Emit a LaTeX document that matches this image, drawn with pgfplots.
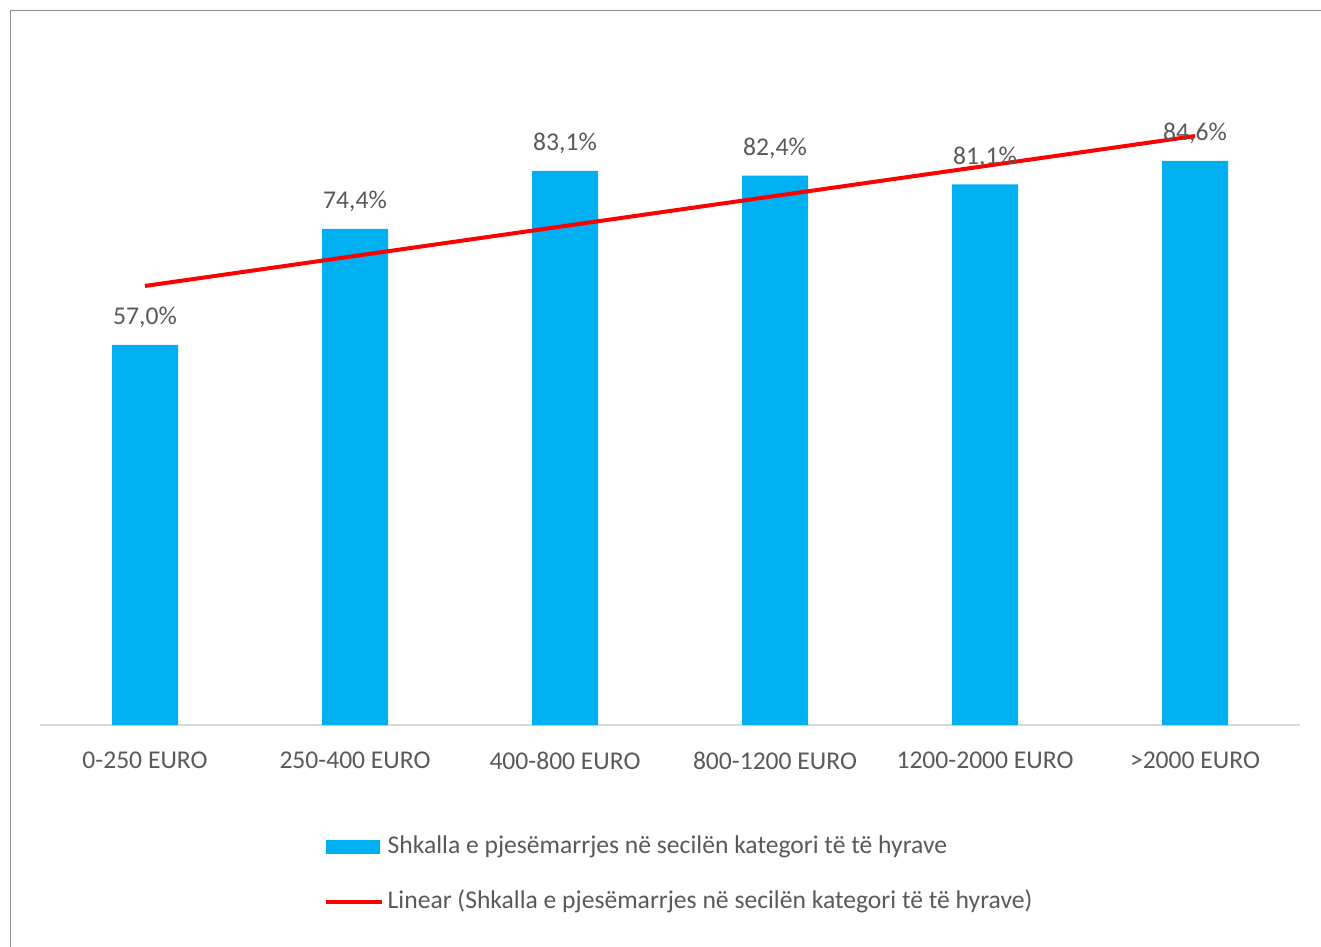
\documentclass[border=0pt]{standalone}
\usepackage{fontspec}
\setmainfont{Carlito}
\usepackage{pgfplots}
\usepackage{pgfplotstable}
\pgfplotsset{compat=1.18}
\definecolor{barblue}{HTML}{00B0F0}
\definecolor{txtgray}{HTML}{595959}
\definecolor{axgray}{HTML}{D9D9D9}
\definecolor{brdgray}{HTML}{8C8C8C}
\pgfplotstableread{
x v
0 57.0
1 74.4
2 83.1
3 82.4
4 81.1
5 84.6
}\data
\begin{document}
\fontsize{25.6bp}{30bp}\selectfont
\begin{tikzpicture}
\useasboundingbox (0,0) rectangle (1321bp,947bp);
\draw[brdgray, line width=1bp] (10bp,0) -- (10bp,936bp) -- (1321bp,936bp);
\begin{axis}[
  at={(40bp,222bp)}, anchor=south west,
  scale only axis, width=1260bp, height=666.67bp,
  xmin=-0.5, xmax=5.5, ymin=0, ymax=100,
  axis x line=bottom, axis y line=none,
  x axis line style={axgray, line width=1.5bp, -},
  xtick={0,...,5}, major tick length=0pt,
  xticklabels={0-250 EURO,250-400 EURO,400-800 EURO,800-1200 EURO,1200-2000 EURO,>2000 EURO},
  xticklabel style={text=txtgray, yshift=-18bp},
  /pgf/number format/assume math mode=true,
  legend style={draw=none, fill=none, inner sep=0pt, at={(0.2254,-0.165)}, anchor=north west,
    row sep=32bp, nodes={text=txtgray, text height=18bp, text depth=5bp, inner ysep=0pt, inner xsep=3.5bp}},
  legend cell align=left,
  clip=false,
]
\addplot[ybar, bar width=66bp, fill=barblue, draw=none,
  nodes near coords={\pgfmathprintnumber[fixed,fixed zerofill,precision=1,use comma]{\pgfplotspointmeta}\%},
  nodes near coords style={text=txtgray, yshift=8bp},
  legend image code/.code={\fill[barblue] (0bp,-7bp) rectangle (54bp,7bp);}
] table[x=x, y=v] {\data};
\addlegendentry{Shkalla e pjesëmarrjes në secilën kategori të të hyrave}
\addplot[red, line width=4bp, no marks,
  legend image code/.code={\draw[red, line width=4bp] (0bp,0bp) -- (56bp,0bp);}
] table[x=x, y={create col/linear regression={y=v}}] {\data};
\addlegendentry{Linear (Shkalla e pjesëmarrjes në secilën kategori të të hyrave)}
\end{axis}
\end{tikzpicture}
\end{document}
